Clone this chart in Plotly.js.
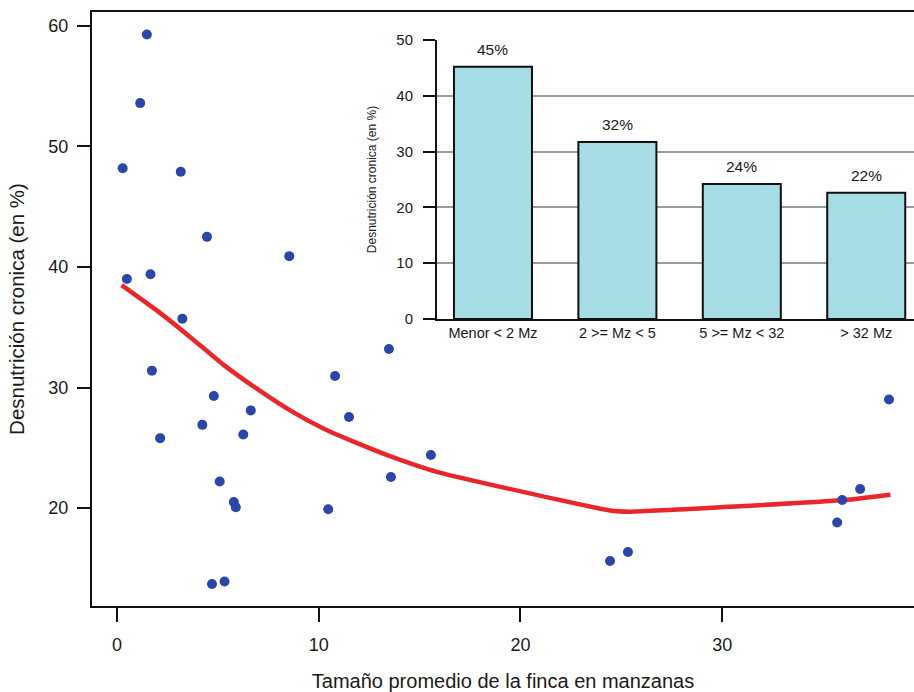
<!DOCTYPE html>
<html>
<head>
<meta charset="utf-8">
<script src="https://cdn.plot.ly/plotly-3.0.1.min.js"></script>
<style>html,body{margin:0;padding:0;background:#fff;}#chart{width:914px;height:692px;}</style>
</head>
<body>
<div id="chart"></div>
<script>
// Scatter: average farm size (manzanas) vs chronic malnutrition (%)
const farmSize = [0.28, 0.49, 1.15, 1.48, 1.66, 1.73, 2.14, 3.16, 3.24, 4.23, 4.46, 4.71, 4.80, 5.09, 5.33, 5.79, 5.89, 6.26, 6.63, 8.54, 10.47, 10.81, 11.50, 13.48, 13.58, 15.56, 24.44, 25.33, 35.70, 35.95, 36.84, 38.27];
const malnutrition = [48.2, 39.0, 53.6, 59.3, 39.4, 31.4, 25.8, 47.9, 35.7, 26.9, 42.5, 13.7, 29.3, 22.2, 13.9, 20.5, 20.06, 26.1, 28.1, 40.9, 19.9, 30.95, 27.55, 33.2, 22.57, 24.4, 15.6, 16.35, 18.8, 20.66, 21.58, 29.0];

// Smoothed trend (red line)
const trendX = [0.23, 1.97, 3.62, 5.27, 6.93, 8.58, 10.23, 11.88, 13.53, 15.85, 24.44, 25.43, 36.05, 38.34];
const trendY = [38.5, 36.4, 34.2, 31.9, 29.9, 28.1, 26.6, 25.4, 24.3, 23.0, 19.8, 19.7, 20.66, 21.1];

// Inset bar chart
const groups = ["Menor < 2 Mz", "2 >= Mz < 5", "5 >= Mz < 32", "> 32 Mz"];
const groupValues = [45.2, 31.7, 24.2, 22.6];
const groupLabels = ["45%", "32%", "24%", "22%"];

const xTicks = [0, 10, 20, 30];
const yTicks = [20, 30, 40, 50, 60];
const insetTicks = [0, 10, 20, 30, 40, 50];

const FONT = "Liberation Sans, Arial, Helvetica, sans-serif";
const INK = "#1a1a1a";

const traces = [
  {
    type: "bar", x: groups, y: groupValues, xaxis: "x2", yaxis: "y2",
    width: 0.627,
    marker: {color: "#a6dce3", line: {color: "#111", width: 2}},
    hoverinfo: "x+y", showlegend: false
  },
  {
    type: "scatter", mode: "lines", x: trendX, y: trendY,
    line: {color: "#e8262b", width: 4.5, shape: "spline", smoothing: 0.5},
    showlegend: false, hoverinfo: "skip"
  },
  {
    type: "scatter", mode: "markers", x: farmSize, y: malnutrition,
    marker: {color: "#2c46a8", size: 10},
    showlegend: false
  }
];

const annotations = groups.map((g, i) => ({
  x: g, y: groupValues[i], xref: "x2", yref: "y2",
  text: groupLabels[i], showarrow: false, yanchor: "bottom", yshift: 7,
  font: {family: FONT, size: 15.5, color: INK}
}));

const layout = {
  width: 914, height: 692,
  margin: {l: 92, r: 0, t: 12, b: 86},
  paper_bgcolor: "#fff", plot_bgcolor: "rgba(0,0,0,0)",
  font: {family: FONT, color: INK},
  showlegend: false,
  xaxis: {
    range: [-1.24, 39.51], tickvals: xTicks, ticks: "outside", ticklen: 14, tickwidth: 2,
    tickcolor: "#111", showline: true, linecolor: "#111", linewidth: 2, mirror: true,
    showgrid: false, zeroline: false, tickfont: {size: 18, family: FONT, color: INK},
    ticklabelstandoff: 7,
    title: {text: "Tamaño promedio de la finca en manzanas", font: {size: 20, family: FONT, color: INK}, standoff: 20}
  },
  yaxis: {
    range: [11.87, 61.16], tickvals: yTicks, ticks: "outside", ticklen: 13, tickwidth: 2,
    tickcolor: "#111", showline: true, linecolor: "#111", linewidth: 2,
    showgrid: false, zeroline: false, tickfont: {size: 18, family: FONT, color: INK},
    ticklabelstandoff: 5,
    title: {text: "Desnutrición cronica (en %)", font: {size: 20.5, family: FONT, color: INK}, standoff: 18}
  },
  xaxis2: {
    domain: [0.4197, 1], anchor: "y2", type: "category", range: [-0.45, 3.384],
    showline: true, linecolor: "#111", linewidth: 2, ticks: "", showgrid: false,
    tickfont: {size: 14.5, family: FONT, color: INK}
  },
  yaxis2: {
    domain: [0.4832, 0.9529], anchor: "x2", range: [0, 50], tickvals: insetTicks,
    ticks: "outside", ticklen: 12, tickwidth: 2, tickcolor: "#111",
    showline: true, linecolor: "#111", linewidth: 2,
    showgrid: true, gridcolor: "#9c9c9c", gridwidth: 2, zeroline: false,
    tickfont: {size: 15, family: FONT, color: INK},
    ticklabelstandoff: 7,
    title: {text: "Desnutrición cronica (en %)", font: {size: 12, family: FONT, color: INK}, standoff: 17}
  },
  annotations: annotations
};

Plotly.newPlot("chart", traces, layout, {displayModeBar: false, staticPlot: true});
</script>
</body>
</html>
